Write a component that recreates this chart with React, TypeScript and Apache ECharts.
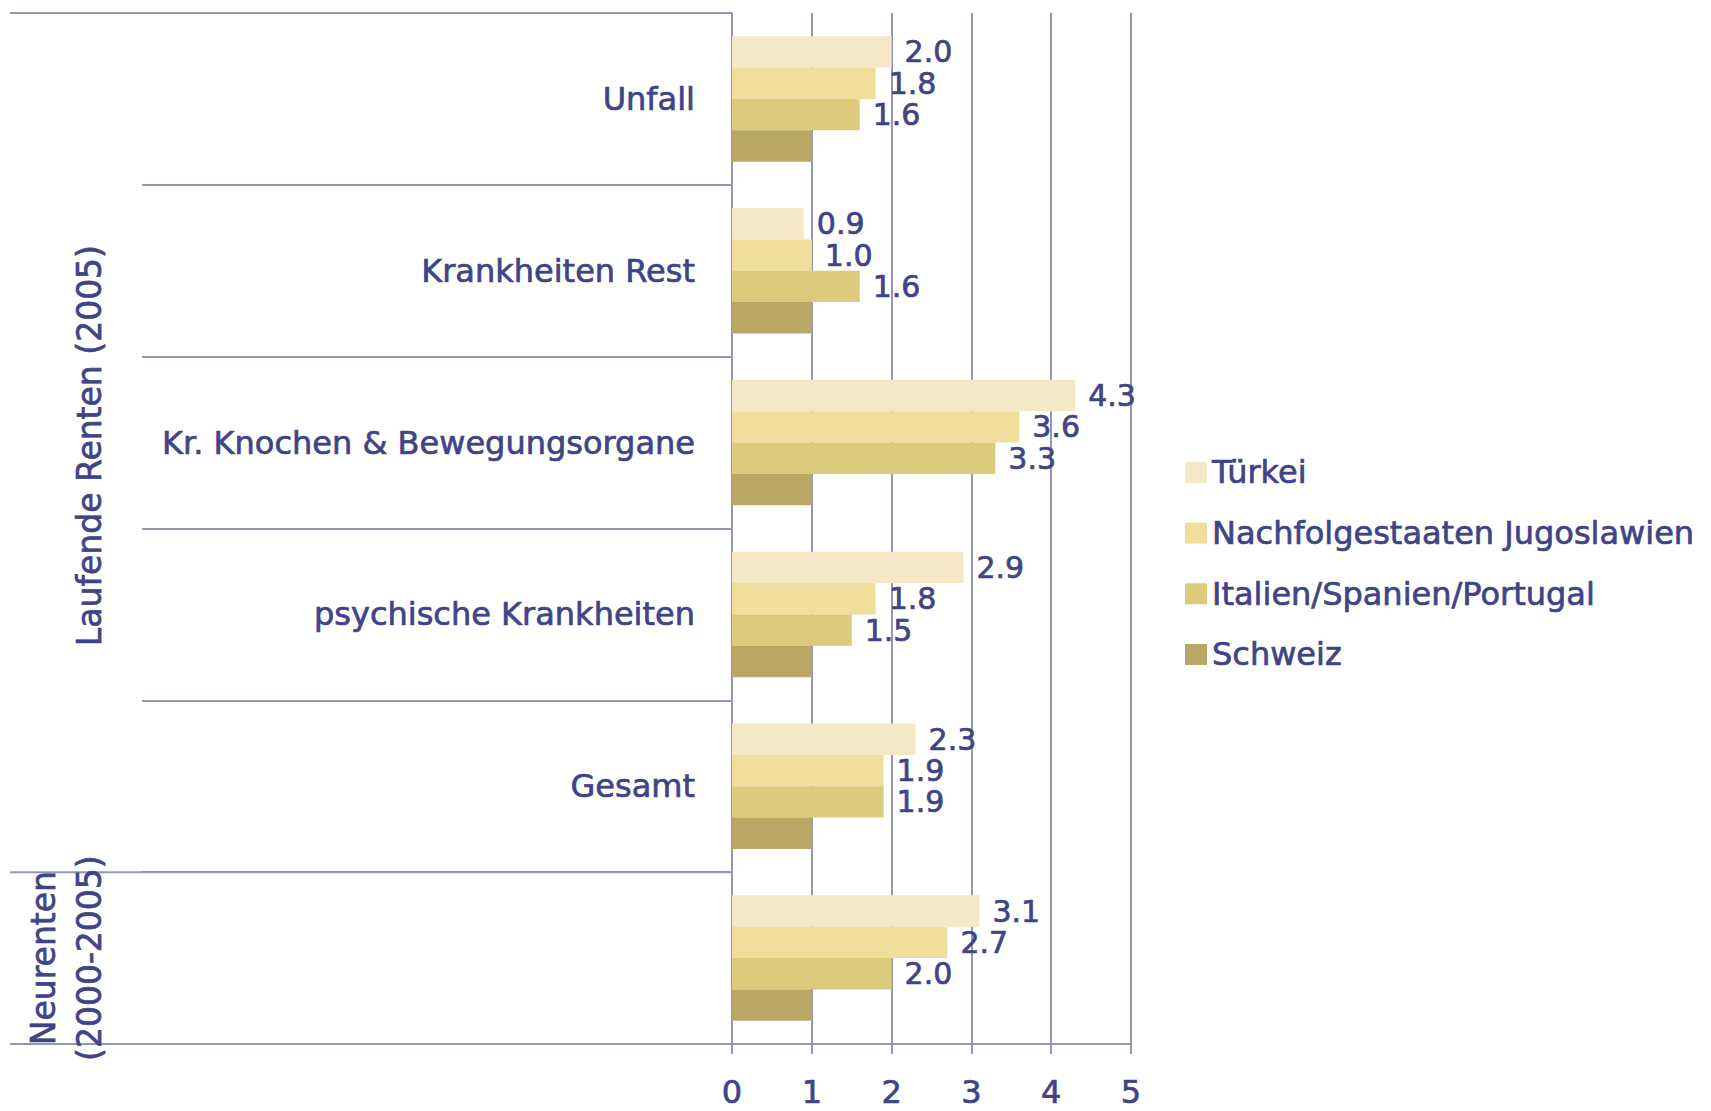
import React, { useEffect, useRef } from "react";
import * as echarts from "echarts";

const categories = [
  "Unfall",
  "Krankheiten Rest",
  "Kr. Knochen & Bewegungsorgane",
  "psychische Krankheiten",
  "Gesamt",
  "",
];
const seriesNames = [
  "Türkei",
  "Nachfolgestaaten Jugoslawien",
  "Italien/Spanien/Portugal",
  "Schweiz",
];
const tuerkei = [2.0, 0.9, 4.3, 2.9, 2.3, 3.1];
const jugoslawien = [1.8, 1.0, 3.6, 1.8, 1.9, 2.7];
const italien = [1.6, 1.6, 3.3, 1.5, 1.9, 2.0];
const schweiz = [1.0, 1.0, 1.0, 1.0, 1.0, 1.0];
const xTicks = [0, 1, 2, 3, 4, 5];
const groupLabels = ["Laufende Renten (2005)", "Neurenten\n(2000-2005)"];
const groupSpans = [
  [0, 5],
  [5, 6],
];

const TEXT = "#404487";
const LINE = "#9496b6";
const COLORS = ["#f5e8c6", "#f0df9c", "#dccb7a", "#b9a865"];
const FONT = "DejaVu Sans";
const THICK = { textBorderColor: TEXT, textBorderWidth: 0.7 };

export default function App() {
  const ref = useRef<HTMLDivElement>(null);

  useEffect(() => {
    const chart = echarts.init(ref.current!, null, { renderer: "svg" });
    const values = [tuerkei, jugoslawien, italien, schweiz];
    chart.setOption({
      animation: false,
      backgroundColor: "#ffffff",
      textStyle: { fontFamily: FONT },
      grid: { left: 732, right: 580, top: 13, bottom: 67, containLabel: false },
      legend: {
        orient: "vertical",
        left: 1180,
        top: 451,
        itemWidth: 22,
        itemHeight: 21,
        itemGap: 28,
        icon: "rect",
        data: seriesNames,
        textStyle: { fontSize: 32, color: TEXT, fontFamily: FONT, ...THICK },
      },
      xAxis: {
        type: "value",
        min: xTicks[0],
        max: xTicks[xTicks.length - 1],
        interval: 1,
        axisLine: { show: true, lineStyle: { color: LINE, width: 2 } },
        axisTick: { show: true, length: 10, lineStyle: { color: LINE, width: 2 } },
        splitLine: { show: true, lineStyle: { color: LINE, width: 2 } },
        axisLabel: { fontSize: 32, color: TEXT, margin: 32, fontFamily: FONT, ...THICK },
      },
      yAxis: {
        type: "category",
        inverse: true,
        data: categories,
        axisLine: { show: true, lineStyle: { color: LINE, width: 2 } },
        axisTick: {
          show: true,
          interval: 0,
          length: 590,
          lineStyle: { color: LINE, width: 2 },
        },
        axisLabel: {
          fontSize: 32,
          color: TEXT,
          margin: 37,
          fontFamily: FONT,
          interval: 0,
          ...THICK,
        },
      },
      series: seriesNames.map((name, i) => ({
        name,
        type: "bar",
        data: values[i],
        barGap: "0%",
        barCategoryGap: "27%",
        itemStyle: { color: COLORS[i] },
        label: {
          show: i < 3,
          position: "right",
          distance: 13,
          fontSize: 30,
          lineHeight: 28,
          color: TEXT,
          fontFamily: FONT,
          ...THICK,
          formatter: (p: any) => Number(p.value).toFixed(1),
        },
      })),
    });

    const c0 = chart.convertToPixel({ yAxisIndex: 0 }, categories[0]) as number;
    const c1 = chart.convertToPixel({ yAxisIndex: 0 }, categories[1]) as number;
    const band = c1 - c0;
    const xZero = chart.convertToPixel({ xAxisIndex: 0 }, 0) as number;
    const boundary = (i: number) => c0 + (i - 0.5) * band;
    const boundaries = [0, 5, 6];
    const graphics: any[] = boundaries.map((b) => ({
      type: "line",
      shape: { x1: 10, y1: boundary(b), x2: xZero, y2: boundary(b) },
      style: { stroke: LINE, lineWidth: 2 },
      z: 10,
    }));
    groupLabels.forEach((label, gi) => {
      const [a, b] = groupSpans[gi];
      const cy = (boundary(a) + boundary(b)) / 2;
      graphics.push({
        type: "text",
        x: gi === 0 ? 89 : 66,
        y: cy + (gi === 0 ? 3 : 0),
        rotation: Math.PI / 2,
        style: {
          text: label,
          fontSize: 33,
          fontFamily: FONT,
          fill: TEXT,
          stroke: TEXT,
          lineWidth: 0.7,
          align: "center",
          verticalAlign: "middle",
          lineHeight: 46,
        },
        z: 11,
      });
    });
    chart.setOption({ graphic: graphics });

    return () => chart.dispose();
  }, []);

  return (
    <div
      ref={ref}
      style={{ position: "fixed", left: 0, top: 0, width: 1711, height: 1111 }}
    />
  );
}
